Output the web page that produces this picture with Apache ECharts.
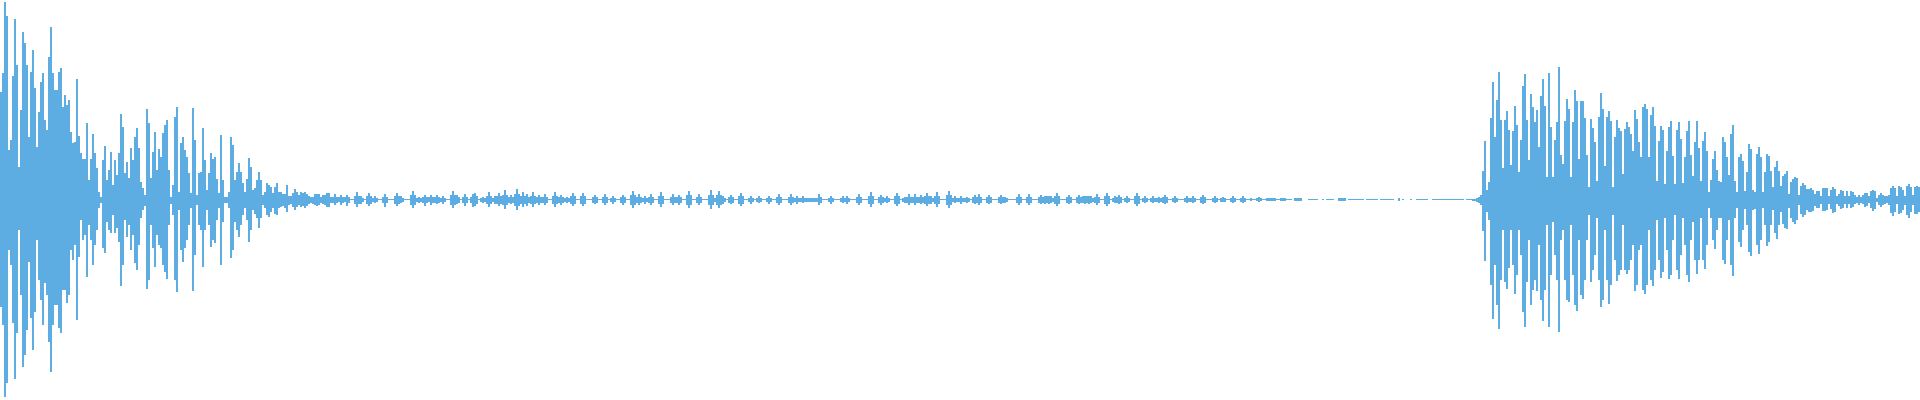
<!DOCTYPE html>
<html>
<head>
<meta charset="utf-8">
<script src="https://cdn.jsdelivr.net/npm/echarts@6/dist/echarts.min.js"></script>
<style>
html,body{margin:0;padding:0;background:#ffffff;}
#chart{width:1920px;height:400px;}
</style>
</head>
<body>
<div id="chart"></div>
<script>
// Waveform envelope: one bar per 2px column; upper = max sample, lower = min sample
const upperAttack = [
108,127,198,184,50,60,124,181,135,33,
90,168,157,135,63,128,150,112,53,88,
118,127,80,70,143,173,127,110,110,128,
132,93,105,95,100,68,57,58,121,64,
47,41,41,77,20,41,66,47,32,8,
3,40,54,20,30,48,15,40,25,47,
86,73,27,38,22,52,40,63,72,52,
18,12,5,91,77,22,48,68,30,51,
43,67,75,80,30,3,15,83,93,8,
57,63,50,43,27,7,92,60,5,27,
28,72,40,10,27,47,41,43,21,7,
65,20,3,3,8,63,55,20,28,37,
28,17,8,21,42,33,10,12,20,28,
20,5,8,17,15,13,7,13,17,8,
8,6,6,15,4,4,7,11,8,5,
8,7,8,6,4,3,3,6,6,6,
3,5,5,7,7
];
const upperQuiet = [
3,3,6,3,3,5,3,3,5,3,
1,1,4,8,4,4,2,1,4,7,
4,2,4,2,1,1,3,6,3,1,
1,1,4,7,4,4,2,1,1,1,
5,9,5,2,3,2,3,5,3,3,
5,3,3,5,3,2,4,2,1,1,
5,9,5,5,3,1,3,6,3,1,
3,6,7,4,1,2,3,2,4,8,
4,2,4,4,7,4,5,10,5,3,
5,3,6,11,6,4,8,4,6,3,
4,8,4,3,5,3,3,6,3,1,
1,4,8,4,3,5,3,2,3,2,
4,7,4,1,1,4,7,4,1,1,
1,3,5,3,1,1,3,6,3,1,
2,4,2,1,1,3,5,3,1,1,
5,9,5,3,6,3,2,4,2,3,
6,3,1,1,4,8,4,1,1,1,
3,6,3,3,5,3,1,1,5,9,
5,1,1,3,6,3,1,1,1,5,
10,5,2,5,9,5,4,2,1,3,
5,3,1,1,4,7,4,1,1,2,
4,2,1,2,4,2,1,1,2,4,
2,1,1,3,6,3,1,1,1,3,
6,3,2,4,2,2,4,2,2,2,
2,2,2,2,6,3,1,1,1,2,
4,2,1,1,1,2,4,2,4,2,
1,1,1,3,6,3,1,1,1,4,
8,4,1,1,3,5,3,2,4,2,
1,1,4,7,4,1,2,3,3,6,
3,3,6,3,3,5,3,4,7,4,
4,2,4,8,4,1,1,1,5,9,
5,2,4,2,2,4,2,2,3,2,
1,3,5,3,6,3,1,1,3,5,
3,1,1,1,3,5,3,3,2,1,
1,1,1,3,6,3,1,1,3,6,
3,1,1,1,3,5,3,4,4,4,
4,2,4,7,4,1,1,1,3,5,
3,1,1,3,5,3,4,4,4,4,
4,2,3,6,3,1,1,4,7,4,
1,2,4,3,5,3,1,2,4,2,
1,1,4,7,4,1,2,4,2,1,
2,4,2,2,3,2,3,5,3,1,
1,2,4,2,1,1,1,2,4,2,
2,4,2,1,1,3,5,3,1,1,
1,2,4,2,1,2,3,2,1,1,
2,4,2,1,1,2,4,2,1,1,
2,1,1,2,3,2,1,1,2,2,
2,2,2,1,1,2,2,2,1,1,
1,0,2,2,2,2,0,0,0,1,
1,1,1,1,0,0,1,0,1,1,
1,1,0,0,2,2,2,2,0,1,
1,1,1,1,1,1,1,0,1,1,
1,1,1,1,0,1,1,1,1,1,
1,1,0,0,2,0,1,0,0,0,
1,0,0,1,1,1,1,1,1,0,
0,1,1,1,1,1,1,1,1,1,
1,1,1,1,1,1,1,0,1,1
];
const upperBeats = [
1,1,1,2,3,5,29,59,10,18,
82,118,63,100,128,80,32,80,89,70,
35,69,94,75,28,60,114,126,80,40,
106,93,78,90,53,104,121,94,23,127,
73,23,60,78,133,45,36,79,101,91,
23,78,110,99,41,99,99,82,45,13,
81,72,58,19,83,107,91,34,83,89,
79,13,63,80,72,69,26,71,78,73,
66,49,90,81,58,43,93,96,91,43,
85,93,74,19,59,74,70,16,49,73,
79,44,16,70,78,61,17,43,69,79,
45,24,58,79,52,19,59,68,49,8,
20,41,49,30,19,18,63,58,43,25,
66,75,19,8,43,46,39,9,28,56,
51,10,8,46,53,43,8,28,46,44,
29,13,33,39,29,14,24,26,29,6,
18,21,23,22,5,14,17,15,11,11,
12,10,6,9,9,4,12,12,12,4,
10,13,11,4,6,10,9,4,9,4,
9,8,5,3,5,3,5,7,7,4,
9,10,9,2,5,7,5,4,4,5,
12,14,12,4,14,13,10,4,14,16,
13,5,13,14,13
];
const lowerAttack = [
-107,-125,-197,-183,-50,-65,-123,-179,-133,-30,
-95,-167,-155,-130,-62,-118,-150,-112,-40,-80,
-100,-125,-83,-95,-142,-172,-125,-105,-105,-128,
-133,-90,-90,-103,-95,-50,-60,-45,-120,-57,
-20,-40,-35,-77,-25,-40,-65,-45,-30,-8,
-3,-48,-53,-22,-30,-33,-15,-33,-28,-42,
-86,-65,-20,-37,-25,-50,-35,-63,-70,-45,
-18,-10,-6,-89,-80,-25,-48,-67,-35,-45,
-48,-65,-72,-79,-25,-4,-15,-80,-92,-10,
-50,-62,-48,-40,-25,-8,-91,-55,-5,-25,
-30,-67,-30,-10,-25,-47,-40,-43,-20,-8,
-65,-22,-3,-3,-8,-58,-50,-22,-30,-37,
-25,-15,-8,-20,-42,-30,-10,-14,-18,-28,
-18,-5,-8,-15,-17,-12,-8,-14,-15,-8,
-7,-6,-8,-12,-5,-4,-7,-10,-7,-5,
-7,-6,-8,-6,-4,-3,-4,-5,-6,-5,
-3,-4,-5,-7,-7
];
const lowerQuiet = [
-3,-3,-5,-3,-2,-5,-3,-2,-6,-3,
0,0,-4,-7,-4,-4,-2,0,-4,-6,
-4,-2,-3,-2,0,0,-3,-7,-3,0,
0,0,-4,-6,-4,-3,-2,0,0,0,
-5,-8,-5,-2,-3,-2,-3,-6,-3,-2,
-5,-3,-3,-4,-3,-2,-4,-2,0,0,
-5,-8,-5,-4,-3,0,-3,-6,-3,0,
-3,-7,-6,-4,0,-2,-3,-2,-4,-7,
-4,-2,-4,-4,-6,-4,-5,-9,-5,-3,
-4,-3,-6,-10,-6,-4,-7,-4,-6,-3,
-4,-7,-4,-3,-5,-3,-3,-5,-3,0,
0,-4,-7,-4,-3,-5,-3,-2,-3,-2,
-4,-6,-4,0,0,-4,-6,-4,0,0,
0,-3,-4,-3,0,0,-3,-5,-3,0,
-2,-4,-2,0,0,-3,-5,-3,0,0,
-5,-8,-5,-3,-5,-3,-2,-4,-2,-3,
-5,-3,0,0,-4,-7,-4,0,0,0,
-3,-5,-3,-3,-5,-3,0,0,-5,-8,
-5,0,0,-3,-5,-3,0,0,0,-5,
-9,-5,-2,-5,-8,-5,-4,-2,0,-3,
-4,-3,0,0,-4,-6,-4,0,0,-2,
-4,-2,0,-2,-3,-2,0,0,-2,-4,
-2,0,0,-3,-5,-3,0,0,0,-3,
-5,-3,-2,-4,-2,-2,-3,-2,-2,-2,
-2,-2,-2,-2,-5,-3,0,0,0,-2,
-4,-2,0,0,0,-2,-3,-2,-4,-2,
0,0,0,-3,-5,-3,0,0,0,-4,
-7,-4,0,0,-3,-5,-3,-2,-3,-2,
0,0,-4,-6,-4,0,-2,-3,-3,-5,
-3,-3,-5,-3,-3,-4,-3,-4,-6,-4,
-4,-2,-4,-7,-4,0,0,0,-5,-8,
-5,-2,-3,-2,-2,-4,-2,-2,-3,-2,
0,-3,-4,-3,-5,-3,0,0,-3,-4,
-3,0,0,0,-3,-4,-3,-3,-2,0,
0,0,0,-3,-5,-3,0,0,-3,-5,
-3,0,0,0,-3,-4,-3,-4,-3,-4,
-3,-2,-4,-6,-4,0,0,0,-3,-4,
-3,0,0,-3,-4,-3,-3,-4,-3,-4,
-3,-2,-3,-5,-3,0,0,-4,-6,-4,
0,-2,-3,-3,-4,-3,0,-2,-3,-2,
0,0,-4,-6,-4,0,-2,-3,-2,0,
-2,-3,-2,-2,-3,-2,-3,-4,-3,0,
0,-2,-3,-2,0,0,0,-2,-3,-2,
-2,-3,-2,0,0,-3,-4,-3,0,0,
0,-2,-3,-2,0,-2,-2,-2,0,0,
-2,-3,-2,0,0,-2,-3,-2,0,0,
-1,0,0,-1,-2,-1,0,0,-1,-1,
-1,-1,-1,0,0,-1,-1,-1,0,0,
0,0,-1,-1,-1,-1,0,0,0,0,
0,0,0,0,0,0,0,0,0,0,
0,0,0,0,-1,-1,-1,-1,0,0,
0,0,0,0,0,0,0,0,0,0,
0,0,0,0,0,0,0,0,0,0,
0,0,0,0,-1,0,0,0,0,0,
0,0,0,0,0,0,0,0,0,0,
0,0,0,0,0,0,0,0,0,0,
0,0,0,0,0,0,0,0,0,0
];
const lowerBeats = [
0,-1,-1,-2,-3,-5,-31,-61,-12,-20,
-85,-119,-65,-105,-129,-80,-30,-82,-89,-68,
-30,-65,-94,-75,-30,-55,-112,-127,-82,-40,
-105,-90,-80,-91,-45,-100,-121,-90,-25,-127,
-75,-22,-55,-80,-132,-40,-30,-80,-100,-102,
-25,-75,-105,-111,-40,-95,-99,-80,-40,-15,
-82,-70,-55,-18,-80,-107,-100,-30,-80,-104,
-85,-15,-60,-81,-75,-70,-25,-70,-74,-70,
-60,-45,-91,-85,-50,-45,-90,-94,-85,-30,
-80,-86,-70,-20,-60,-78,-72,-18,-50,-79,
-75,-40,-15,-70,-79,-55,-18,-45,-75,-82,
-40,-22,-60,-74,-60,-18,-60,-69,-45,-8,
-18,-40,-49,-30,-18,-18,-60,-64,-40,-20,
-65,-76,-18,-8,-42,-47,-30,-9,-25,-52,
-56,-10,-9,-45,-54,-40,-8,-25,-46,-42,
-25,-10,-33,-39,-25,-12,-24,-28,-29,-8,
-18,-22,-24,-20,-5,-14,-17,-15,-10,-12,
-12,-11,-6,-8,-8,-4,-11,-11,-10,-4,
-9,-13,-12,-4,-6,-9,-8,-4,-8,-4,
-8,-7,-4,-3,-5,-3,-4,-7,-6,-3,
-8,-11,-9,-2,-5,-7,-5,-4,-3,-5,
-13,-16,-12,-4,-14,-13,-10,-5,-15,-18,
-12,-5,-14,-14,-12
];

const upper = upperAttack.concat(upperQuiet, upperBeats);
const lower = lowerAttack.concat(lowerQuiet, lowerBeats);
const categories = upper.map(function (_, i) { return i; });
const waveColor = '#5DADE2';

const chart = echarts.init(document.getElementById('chart'), null, { renderer: 'canvas' });
chart.setOption({
  animation: false,
  backgroundColor: '#ffffff',
  grid: { left: 0, right: 0, top: 0, bottom: 0 },
  xAxis: { type: 'category', data: categories, show: false, boundaryGap: true },
  yAxis: { type: 'value', min: -200, max: 200, show: false },
  series: [
    { name: 'max', type: 'bar', data: upper, barWidth: '100%', barGap: '-100%', silent: true, itemStyle: { color: waveColor } },
    { name: 'min', type: 'bar', data: lower, barWidth: '100%', barGap: '-100%', silent: true, itemStyle: { color: waveColor } }
  ]
});
</script>
</body>
</html>
